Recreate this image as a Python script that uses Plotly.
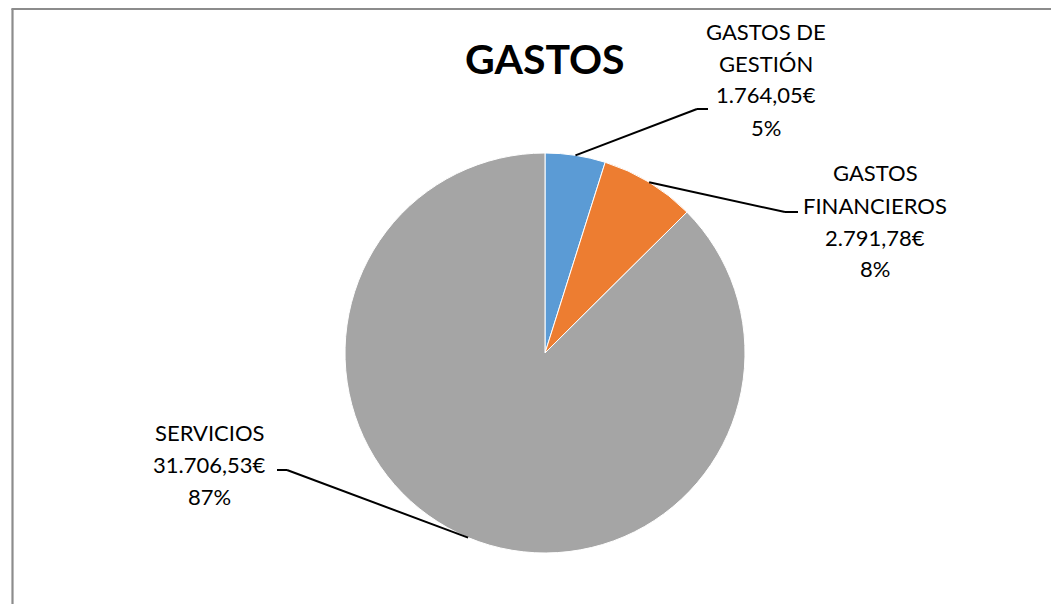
import math
import plotly.graph_objects as go

# ---- data ----
categories = ["GASTOS DE GESTIÓN", "GASTOS FINANCIEROS", "SERVICIOS"]
label_lines = [["GASTOS DE", "GESTIÓN"], ["GASTOS", "FINANCIEROS"], ["SERVICIOS"]]
values = [1764.05, 2791.78, 31706.53]
colors = ["#5B9BD5", "#ED7D31", "#A5A5A5"]
title_text = "GASTOS"

# ---- layout constants (pixels, screen coords) ----
OFF = 8  # page body margin
W, H = 1059 - OFF, 612 - 2 * OFF
CX, CY, R = 545, 353, 200
FONT = "Lato"
elbows = [(697, 109), (785, 212), (287, 470)]
ticks = [(708, 109), (798, 212), (277, 470)]
text_pos = [(766, 31), (875, 173), (209, 432)]
LINE_H = 32


def px(x):
    return (x - OFF) / W


def py(y):
    return 1 - (y - OFF) / H


def fmt_eur(v):
    s = f"{v:,.2f}".replace(",", "X").replace(".", ",").replace("X", ".")
    return s + "€"


total = sum(values)

fig = go.Figure(
    go.Pie(
        labels=categories,
        values=values,
        sort=False,
        direction="clockwise",
        rotation=0,
        marker=dict(colors=colors, line=dict(color="white", width=1)),
        textinfo="none",
        hoverinfo="label+value+percent",
        showlegend=False,
        domain=dict(x=[px(CX - R), px(CX + R)], y=[py(CY + R), py(CY - R)]),
    )
)

shapes = []
annotations = []

# chart-area border (top and left edges visible in the crop)
border = dict(color="#8C8C8C", width=2.2)
shapes.append(dict(type="line", xref="paper", yref="paper",
                   x0=px(11.4), y0=py(9), x1=px(1059), y1=py(9), line=border))
shapes.append(dict(type="line", xref="paper", yref="paper",
                   x0=px(12.5), y0=py(9), x1=px(12.5), y1=py(612), line=border))

# title
annotations.append(dict(text=f"<b>{title_text}</b>", x=px(CX), y=py(58), xref="paper", yref="paper",
                        showarrow=False, xanchor="center", yanchor="middle",
                        font=dict(family=FONT, size=41, color="black")))

cum = 0.0
for i, v in enumerate(values):
    frac = v / total
    mid = (cum + frac / 2) * 2 * math.pi
    cum += frac
    ex = CX + R * math.sin(mid)
    ey = CY - R * math.cos(mid)
    bx, by = elbows[i]
    tx, ty = ticks[i]
    shapes.append(dict(type="line", xref="paper", yref="paper",
                       x0=px(ex), y0=py(ey), x1=px(bx), y1=py(by),
                       line=dict(color="black", width=2)))
    shapes.append(dict(type="line", xref="paper", yref="paper",
                       x0=px(bx), y0=py(by), x1=px(tx), y1=py(ty),
                       line=dict(color="black", width=2)))
    lines = label_lines[i] + [fmt_eur(v), f"{round(frac * 100)}%"]
    cxp, cyp = text_pos[i]
    for k, line in enumerate(lines):
        annotations.append(dict(text=line, x=px(cxp), y=py(cyp + k * LINE_H),
                                xref="paper", yref="paper", showarrow=False,
                                xanchor="center", yanchor="middle",
                                font=dict(family=FONT, size=22, color="black")))

fig.update_layout(
    width=W, height=H,
    margin=dict(l=0, r=0, t=0, b=0),
    paper_bgcolor="white",
    plot_bgcolor="white",
    shapes=shapes,
    annotations=annotations,
)

fig.write_html("out.html")
